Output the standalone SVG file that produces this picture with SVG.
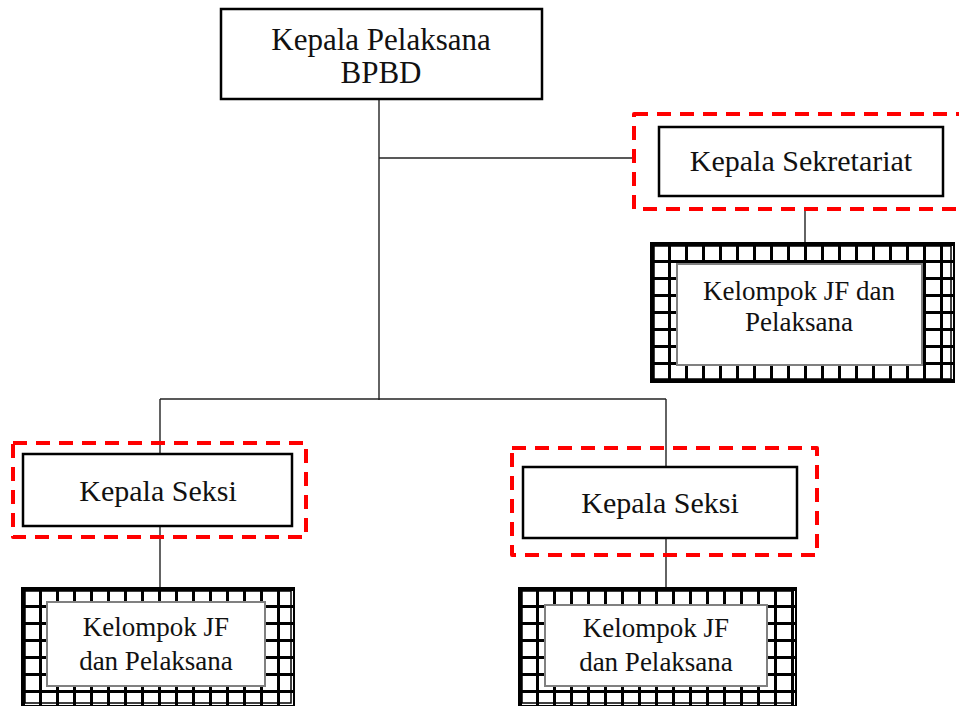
<svg xmlns="http://www.w3.org/2000/svg" width="959" height="706" viewBox="0 0 959 706">
<style>
.box{fill:#fff;stroke:#000;stroke-width:2.5}
.dash{fill:none;stroke:#f00;stroke-width:4;stroke-dasharray:14 9;stroke-linejoin:round}
.grid{fill:url(#grid);stroke:#000;stroke-width:2}
.inner{fill:#fff;stroke:#808080;stroke-width:2}
.t{font-family:"Liberation Serif","Times New Roman",serif;font-size:30px;fill:#111;text-anchor:middle}
.big{font-size:31px}
.s{font-family:"Liberation Serif","Times New Roman",serif;font-size:27px;fill:#111;text-anchor:middle}
.con{fill:none;stroke:#222;stroke-width:1.4}
</style>
<defs>
<pattern id="grid" width="17" height="17" patternUnits="userSpaceOnUse">
<rect width="17" height="17" fill="#fff"/>
<path d="M0 1.5H17M1.5 0V17" stroke="#000" stroke-width="3"/>
</pattern>
</defs>
<rect width="959" height="706" fill="#fff"/>
<g id="connectors">
<path class="con" d="M379 99V400"/>
<path class="con" d="M379 158H634"/>
<path class="con" d="M805 209V243"/>
<path class="con" d="M160 399H666"/>
<path class="con" d="M160 399V454"/>
<path class="con" d="M666 399V467"/>
<path class="con" d="M160 526V588"/>
<path class="con" d="M666 538V588"/>
</g>
<g id="kepala-pelaksana">
<rect class="box" x="221" y="9" width="321" height="90"/>
<text class="t big" x="381" y="50">Kepala Pelaksana</text>
<text class="t big" x="381" y="83">BPBD</text>
</g>
<g id="kepala-sekretariat">
<rect class="dash" x="634" y="114" width="332" height="95"/>
<rect class="box" x="659" y="127" width="284" height="69"/>
<text class="t" x="801" y="171">Kepala Sekretariat</text>
</g>
<g id="jf-sekretariat" transform="translate(651 243)">
<rect class="grid" x="0" y="0" width="303" height="139"/>
<rect fill="none" stroke="#000" stroke-width="1.5" x="3" y="3" width="297" height="133"/>
<rect class="inner" x="26" y="21" width="245" height="101"/>
<text class="s" x="148" y="57">Kelompok JF dan</text>
<text class="s" x="148" y="88">Pelaksana</text>
</g>
<g id="kepala-seksi-1">
<rect class="dash" x="13" y="443" width="293" height="94"/>
<rect class="box" x="23" y="454" width="269" height="72"/>
<text class="t" x="158" y="501">Kepala Seksi</text>
</g>
<g id="kepala-seksi-2">
<rect class="dash" x="512" y="448" width="305" height="107"/>
<rect class="box" x="523" y="467" width="274" height="71"/>
<text class="t" x="660" y="513">Kepala Seksi</text>
</g>
<g id="jf-seksi-1" transform="translate(22 588)">
<rect class="grid" x="0" y="0" width="272" height="118"/>
<rect fill="none" stroke="#000" stroke-width="1.5" x="3" y="3" width="266" height="112"/>
<rect class="inner" x="25" y="14" width="218" height="84"/>
<text class="s" x="134" y="48">Kelompok JF</text>
<text class="s" x="134" y="82">dan Pelaksana</text>
</g>
<g id="jf-seksi-2" transform="translate(519 588)">
<rect class="grid" x="0" y="0" width="277" height="118"/>
<rect fill="none" stroke="#000" stroke-width="1.5" x="3" y="3" width="271" height="112"/>
<rect class="inner" x="26" y="17" width="222" height="81"/>
<text class="s" x="137" y="49">Kelompok JF</text>
<text class="s" x="137" y="83">dan Pelaksana</text>
</g>
</svg>
